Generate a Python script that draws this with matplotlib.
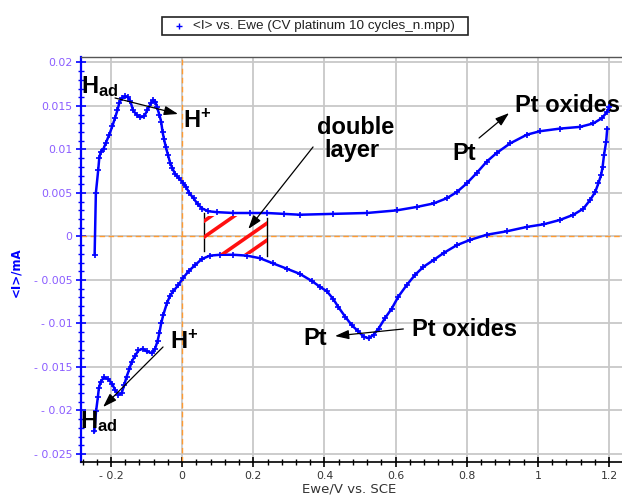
import matplotlib
matplotlib.use('Agg')
import matplotlib.pyplot as plt
from matplotlib.lines import Line2D
from matplotlib.patches import Rectangle
from matplotlib.ticker import MultipleLocator, FixedLocator, FixedFormatter

plt.rcParams['mathtext.fontset'] = 'custom'
plt.rcParams['mathtext.bf'] = 'Liberation Sans:bold'
plt.rcParams['mathtext.rm'] = 'Liberation Sans:bold'
plt.rcParams['mathtext.it'] = 'Liberation Sans:bold'

# ---------------- data ----------------
ewe_up = [-0.246, -0.2425, -0.236, -0.233, -0.229, -0.221, -0.214, -0.205, -0.196, -0.189,
          -0.182, -0.177, -0.170, -0.160, -0.152, -0.146, -0.138, -0.128, -0.118, -0.107,
          -0.098, -0.088, -0.081, -0.075, -0.071, -0.064, -0.059, -0.055, -0.051, -0.046,
          -0.040, -0.034, -0.028, -0.020, -0.009, 0.002, 0.011, 0.020, 0.032, 0.044,
          0.057, 0.074, 0.097, 0.144, 0.191, 0.238, 0.285, 0.331, 0.424, 0.519,
          0.603, 0.660, 0.707, 0.744, 0.772, 0.800, 0.828, 0.856, 0.884, 0.922,
          0.969, 1.006, 1.062, 1.119, 1.156, 1.180, 1.194, 1.201]
i_up = [-0.0021, 0.0050, 0.0076, 0.0090, 0.0097, 0.0101, 0.0108, 0.0117, 0.0127, 0.0136,
        0.0145, 0.0153, 0.0159, 0.0161, 0.0160, 0.0156, 0.0145, 0.0140, 0.0137, 0.0138,
        0.0145, 0.0153, 0.0157, 0.0155, 0.0149, 0.0140, 0.0132, 0.0120, 0.0112, 0.0103,
        0.0094, 0.0085, 0.0079, 0.0072, 0.0067, 0.0062, 0.0057, 0.0050, 0.0044, 0.0037,
        0.0032, 0.0029, 0.0028, 0.0027, 0.0027, 0.0027, 0.0026, 0.0025, 0.0026, 0.0027,
        0.0030, 0.0034, 0.0038, 0.0044, 0.0051, 0.0061, 0.0073, 0.0086, 0.0096, 0.0107,
        0.0117, 0.0121, 0.0124, 0.0126, 0.0130, 0.0136, 0.0143, 0.0149]

ewe_down = [1.195, 1.192, 1.186, 1.182, 1.178, 1.170, 1.161, 1.147, 1.128, 1.100,
            1.062, 1.016, 0.969, 0.913, 0.856, 0.809, 0.772, 0.735, 0.707, 0.678,
            0.655, 0.631, 0.608, 0.589, 0.570, 0.552, 0.538, 0.524, 0.510, 0.495,
            0.477, 0.458, 0.439, 0.425, 0.407, 0.388, 0.364, 0.331, 0.294, 0.256,
            0.219, 0.182, 0.144, 0.107, 0.078, 0.055, 0.036, 0.018, 0.002, -0.011,
            -0.025, -0.034, -0.043, -0.053, -0.059, -0.064, -0.069, -0.076, -0.085, -0.100,
            -0.111, -0.123, -0.132, -0.142, -0.148, -0.156, -0.163, -0.170, -0.179, -0.189,
            -0.196, -0.207, -0.220, -0.229, -0.234, -0.237, -0.242, -0.247]
i_down = [0.0124, 0.0109, 0.0094, 0.0080, 0.0071, 0.0061, 0.0051, 0.0042, 0.0032, 0.0025,
          0.0019, 0.0014, 0.0011, 0.0006, 0.0002, -0.0004, -0.0010, -0.0019, -0.0027, -0.0035,
          -0.0044, -0.0056, -0.0069, -0.0083, -0.0094, -0.0106, -0.0113, -0.0117, -0.0115, -0.0109,
          -0.0102, -0.0092, -0.0081, -0.0072, -0.0063, -0.0058, -0.0051, -0.0043, -0.0037, -0.0031,
          -0.0025, -0.0022, -0.0021, -0.0021, -0.0022, -0.0026, -0.0033, -0.0040, -0.0048, -0.0056,
          -0.0063, -0.0068, -0.0077, -0.0090, -0.0100, -0.0111, -0.0120, -0.0129, -0.0134, -0.0132,
          -0.0129, -0.0131, -0.0137, -0.0144, -0.0152, -0.0161, -0.0171, -0.0180, -0.0182, -0.0176,
          -0.0170, -0.0164, -0.0162, -0.0167, -0.0174, -0.0185, -0.0201, -0.0224]

x_ticks = [-0.2, 0.0, 0.2, 0.4, 0.6, 0.8, 1.0, 1.2]
x_tick_labels = ['- 0.2', '0', '0.2', '0.4', '0.6', '0.8', '1', '1.2']
y_ticks = [0.02, 0.015, 0.01, 0.005, 0.0, -0.005, -0.01, -0.015, -0.02, -0.025]
y_tick_labels = ['0.02', '0.015', '0.01', '0.005', '0', '- 0.005', '- 0.01', '- 0.015', '- 0.02', '- 0.025']

legend_label = '<I> vs. Ewe (CV platinum 10 cycles_n.mpp)'
x_label = 'Ewe/V vs. SCE'
y_label = '<I>/mA'

# double-layer hatched band
dl_left, dl_right = 0.0615, 0.238
dl_bottom, dl_top = -0.00205, 0.00236
stripe_offsets = [0.00177, -0.00007, -0.00352, -0.00547]
stripe_slope = 0.0285

# ---------------- figure ----------------
W, H = 622, 496
fig = plt.figure(figsize=(W / 100, H / 100), dpi=100)
ax = fig.add_axes([81 / W, 34 / H, 541 / W, 405 / H])
ax.set_xlim(-0.2843, 1.2365)
ax.set_ylim(-0.02592, 0.02063)

blue = '#0000ff'
ax.plot(ewe_up, i_up, '-', color=blue, lw=1.8, marker='+', ms=4, mew=1.2, zorder=4)
ax.plot(ewe_down, i_down, '-', color=blue, lw=1.8, marker='+', ms=4, mew=1.2, zorder=4)

# grid and zero lines
ax.set_axisbelow(True)
ax.xaxis.set_major_locator(FixedLocator(x_ticks))
ax.xaxis.set_major_formatter(FixedFormatter(x_tick_labels))
ax.yaxis.set_major_locator(FixedLocator(y_ticks))
ax.yaxis.set_major_formatter(FixedFormatter(y_tick_labels))
ax.xaxis.set_minor_locator(MultipleLocator(0.04))
ax.yaxis.set_minor_locator(MultipleLocator(0.001))
ax.grid(True, which='major', color='#c8c8c8', lw=1.3, zorder=0)
ax.axhline(0, color='#ff9a30', lw=1.0, ls=(0, (4, 2.5)), zorder=1)
ax.axvline(0, color='#ff9a30', lw=1.0, ls=(0, (4, 2.5)), zorder=1)

# spines and ticks
ax.spines['right'].set_visible(False)
ax.spines['top'].set_color('#555555')
ax.spines['top'].set_linewidth(1.0)
ax.spines['left'].set_color(blue)
ax.spines['left'].set_linewidth(1.6)
ax.spines['bottom'].set_color('black')
ax.spines['bottom'].set_linewidth(1.2)
ax.tick_params(axis='y', which='major', direction='inout', length=7, width=1.2,
               color=blue, labelcolor='#8a5cff', labelsize=7.8, pad=2.5)
ax.tick_params(axis='y', which='minor', direction='inout', length=4, width=1.0, color=blue)
ax.tick_params(axis='x', which='major', direction='inout', length=7, width=1.2,
               color='black', labelcolor='#333333', labelsize=7.8, pad=3)
ax.tick_params(axis='x', which='minor', direction='inout', length=4, width=1.0, color='black')

# hatched double layer
clip_rect = Rectangle((dl_left, dl_bottom), dl_right - dl_left, dl_top - dl_bottom,
                      transform=ax.transData, fill=False, visible=False)
ax.add_patch(clip_rect)
for off in stripe_offsets:
    xs = [dl_left - 0.05, dl_right + 0.05]
    ys = [off + stripe_slope * (x - dl_left) for x in xs]
    ln, = ax.plot(xs, ys, color='#ff1010', lw=2.6, solid_capstyle='butt', zorder=5)
    ln.set_clip_path(clip_rect)
ax.plot([dl_left, dl_left], [0.00270, -0.00167], color='black', lw=1.0, zorder=3)
ax.plot([dl_right, dl_right], [0.00213, -0.00224], color='black', lw=1.0, zorder=3)

# annotations
tfont = dict(family='Liberation Sans', weight='bold', size=17, color='black')
arrow = dict(arrowstyle='-|>,head_length=0.6,head_width=0.2', color='black', lw=0.9,
             shrinkA=0, shrinkB=0, mutation_scale=14)

ax.text(-0.283, 0.01649, r'$\mathbf{H_{ad}}$', ha='left', va='baseline', clip_on=False,
        fontsize=17, zorder=6)
ax.annotate('', xy=(-0.0115, 0.01408), xytext=(-0.1887, 0.01592), arrowprops=arrow, zorder=6)
ax.text(0.0025, 0.01253, r'$\mathbf{H^{+}}$', ha='left', va='baseline', fontsize=17, zorder=6)

ax.text(0.489, 0.01182, 'double', ha='center', va='baseline', **tfont)
ax.text(0.478, 0.00914, 'layer', ha='center', va='baseline', **tfont)
ax.annotate('', xy=(0.1859, 0.00086), xytext=(0.368, 0.01029), arrowprops=arrow, zorder=6)

ax.text(0.759, 0.00879, 'Pt', ha='left', va='baseline', **tfont)
ax.annotate('', xy=(0.919, 0.01419), xytext=(0.8347, 0.01132), arrowprops=arrow, zorder=6)
ax.text(0.936, 0.01431, 'Pt oxides', ha='left', va='baseline', clip_on=False, **tfont)

ax.text(0.340, -0.01247, 'Pt', ha='left', va='baseline', **tfont)
ax.text(0.646, -0.01144, 'Pt oxides', ha='left', va='baseline', **tfont)
ax.annotate('', xy=(0.4297, -0.01144), xytext=(0.6218, -0.01063), arrowprops=arrow, zorder=6)

ax.text(-0.034, -0.01293, r'$\mathbf{H^{+}}$', ha='left', va='baseline', fontsize=17, zorder=6)
ax.annotate('', xy=(-0.2222, -0.01960), xytext=(-0.0537, -0.01270), arrowprops=arrow, zorder=6)
ax.text(-0.287, -0.02201, r'$\mathbf{H_{ad}}$', ha='left', va='baseline', clip_on=False,
        fontsize=17, zorder=6)

# axis labels
fig.text(16 / W, 1 - 272 / H, y_label, rotation=90, color=blue, fontweight='bold',
         fontsize=8.5, ha='center', va='center')
fig.text(349 / W, 0.5 / H, x_label, ha='center', va='bottom', fontsize=9.5, color='#333333')

# legend (drawn as a framed key in figure pixels)
fig.patches.append(Rectangle((162 / W, 1 - 35 / H), 306 / W, 18 / H, transform=fig.transFigure,
                             fill=True, facecolor='white', edgecolor='#222222', lw=1.2))
fig.lines.append(Line2D([179 / W], [1 - 26 / H], transform=fig.transFigure, ls='none',
                        marker='+', color=blue, ms=4, mew=1.0))
fig.text(193 / W, 1 - 26 / H, legend_label, ha='left', va='center', color='#222222',
         family='Liberation Sans', fontsize=9.7)

fig.savefig('out.png', dpi=100)
